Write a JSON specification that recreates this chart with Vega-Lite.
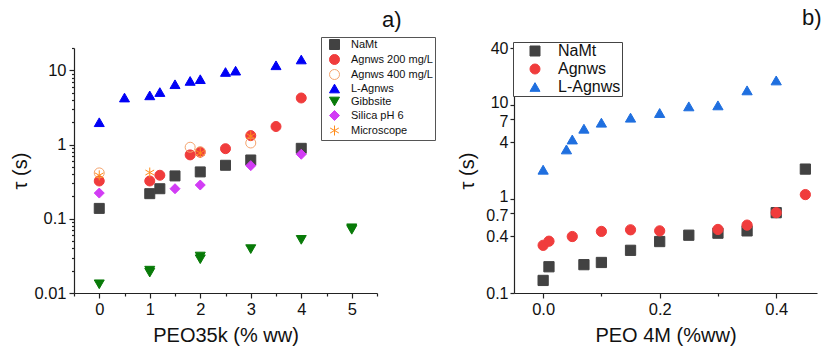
{
  "$schema": "https://vega.github.io/schema/vega-lite/v6.json",
  "padding": {"left": 10, "top": 7, "right": 0, "bottom": 0},
  "bounds": "flush",
  "spacing": 137,
  "config": {
    "font": "Liberation Sans",
    "view": {"stroke": null},
    "axis": {"grid": false, "domainColor": "#222", "tickColor": "#222", "labelColor": "#111", "titleColor": "#111", "labelFontSize": 16.5, "titleFontSize": 20, "titleFontWeight": "normal", "tickSize": 5, "domainWidth": 1.2, "tickWidth": 1.2, "labelPadding": 2, "labelOverlap": false},
    "title": {"fontSize": 22, "fontWeight": "normal", "anchor": "start", "frame": "group", "color": "#111", "baseline": "alphabetic"}
  },
  "datasets": {
    "a": [
      {"x": 0, "y": 0.138, "s": "NaMt"},
      {"x": 1, "y": 0.218, "s": "NaMt"},
      {"x": 1.2, "y": 0.254, "s": "NaMt"},
      {"x": 1.5, "y": 0.378, "s": "NaMt"},
      {"x": 2, "y": 0.428, "s": "NaMt"},
      {"x": 2.5, "y": 0.526, "s": "NaMt"},
      {"x": 3, "y": 0.62, "s": "NaMt"},
      {"x": 4, "y": 0.89, "s": "NaMt"},
      {"x": 0, "y": 0.0131, "s": "Gibbsite"},
      {"x": 1, "y": 0.0200, "s": "Gibbsite"},
      {"x": 1, "y": 0.0188, "s": "Gibbsite"},
      {"x": 2, "y": 0.0310, "s": "Gibbsite"},
      {"x": 2, "y": 0.0285, "s": "Gibbsite"},
      {"x": 3, "y": 0.039, "s": "Gibbsite"},
      {"x": 4, "y": 0.052, "s": "Gibbsite"},
      {"x": 5, "y": 0.0745, "s": "Gibbsite"},
      {"x": 5, "y": 0.071, "s": "Gibbsite"},
      {"x": 0, "y": 0.222, "s": "Silica pH 6"},
      {"x": 1.5, "y": 0.254, "s": "Silica pH 6"},
      {"x": 2, "y": 0.285, "s": "Silica pH 6"},
      {"x": 3, "y": 0.52, "s": "Silica pH 6"},
      {"x": 4, "y": 0.74, "s": "Silica pH 6"},
      {"x": 0, "y": 2.0, "s": "L-Agnws"},
      {"x": 0.5, "y": 4.3, "s": "L-Agnws"},
      {"x": 1, "y": 4.6, "s": "L-Agnws"},
      {"x": 1.2, "y": 5.1, "s": "L-Agnws"},
      {"x": 1.5, "y": 6.5, "s": "L-Agnws"},
      {"x": 1.8, "y": 7.2, "s": "L-Agnws"},
      {"x": 2, "y": 7.6, "s": "L-Agnws"},
      {"x": 2.5, "y": 9.5, "s": "L-Agnws"},
      {"x": 2.7, "y": 9.9, "s": "L-Agnws"},
      {"x": 3.5, "y": 11.7, "s": "L-Agnws"},
      {"x": 4, "y": 14.0, "s": "L-Agnws"},
      {"x": 0, "y": 0.323, "s": "Agnws 200 mg/L"},
      {"x": 1, "y": 0.323, "s": "Agnws 200 mg/L"},
      {"x": 1.2, "y": 0.386, "s": "Agnws 200 mg/L"},
      {"x": 1.8, "y": 0.726, "s": "Agnws 200 mg/L"},
      {"x": 2, "y": 0.79, "s": "Agnws 200 mg/L"},
      {"x": 2.5, "y": 0.88, "s": "Agnws 200 mg/L"},
      {"x": 3, "y": 1.32, "s": "Agnws 200 mg/L"},
      {"x": 3.5, "y": 1.75, "s": "Agnws 200 mg/L"},
      {"x": 4, "y": 4.24, "s": "Agnws 200 mg/L"},
      {"x": 0, "y": 0.415, "s": "Agnws 400 mg/L"},
      {"x": 1.8, "y": 0.92, "s": "Agnws 400 mg/L"},
      {"x": 2, "y": 0.80, "s": "Agnws 400 mg/L"},
      {"x": 3, "y": 1.05, "s": "Agnws 400 mg/L"},
      {"x": 0, "y": 0.385, "s": "Microscope"},
      {"x": 1, "y": 0.42, "s": "Microscope"},
      {"x": 2, "y": 0.77, "s": "Microscope"},
      {"x": 3, "y": 1.3, "s": "Microscope"}
    ],
    "b": [
      {"x": 0.0, "y": 0.136, "s": "NaMt"},
      {"x": 0.01, "y": 0.19, "s": "NaMt"},
      {"x": 0.07, "y": 0.2, "s": "NaMt"},
      {"x": 0.1, "y": 0.211, "s": "NaMt"},
      {"x": 0.15, "y": 0.284, "s": "NaMt"},
      {"x": 0.2, "y": 0.352, "s": "NaMt"},
      {"x": 0.25, "y": 0.411, "s": "NaMt"},
      {"x": 0.3, "y": 0.432, "s": "NaMt"},
      {"x": 0.35, "y": 0.457, "s": "NaMt"},
      {"x": 0.4, "y": 0.713, "s": "NaMt"},
      {"x": 0.45, "y": 2.07, "s": "NaMt"},
      {"x": 0.0, "y": 0.321, "s": "Agnws"},
      {"x": 0.01, "y": 0.355, "s": "Agnws"},
      {"x": 0.05, "y": 0.398, "s": "Agnws"},
      {"x": 0.1, "y": 0.451, "s": "Agnws"},
      {"x": 0.15, "y": 0.469, "s": "Agnws"},
      {"x": 0.2, "y": 0.457, "s": "Agnws"},
      {"x": 0.3, "y": 0.473, "s": "Agnws"},
      {"x": 0.35, "y": 0.526, "s": "Agnws"},
      {"x": 0.4, "y": 0.713, "s": "Agnws"},
      {"x": 0.45, "y": 1.11, "s": "Agnws"},
      {"x": 0.0, "y": 2.04, "s": "L-Agnws"},
      {"x": 0.04, "y": 3.35, "s": "L-Agnws"},
      {"x": 0.05, "y": 4.27, "s": "L-Agnws"},
      {"x": 0.07, "y": 5.56, "s": "L-Agnws"},
      {"x": 0.1, "y": 6.44, "s": "L-Agnws"},
      {"x": 0.15, "y": 7.28, "s": "L-Agnws"},
      {"x": 0.2, "y": 8.16, "s": "L-Agnws"},
      {"x": 0.25, "y": 9.6, "s": "L-Agnws"},
      {"x": 0.3, "y": 9.84, "s": "L-Agnws"},
      {"x": 0.35, "y": 14.2, "s": "L-Agnws"},
      {"x": 0.4, "y": 18.1, "s": "L-Agnws"}
    ]
  },
  "hconcat": [
    {
      "width": 303,
      "height": 245,
      "title": {"text": "a)", "dx": 308, "offset": 5},
      "data": {"name": "a"},
      "mark": {"type": "point", "size": 100, "strokeWidth": 1, "opacity": 1},
      "encoding": {
        "x": {"field": "x", "type": "quantitative", "scale": {"domain": [-0.5, 5.5], "nice": false, "zero": false},
              "axis": {"values": [-0.5, 0, 0.5, 1, 1.5, 2, 2.5, 3, 3.5, 4, 4.5, 5, 5.5],
                       "labelExpr": "datum.value % 1 == 0 ? format(datum.value, 'd') : ''",
                       "tickSize": {"condition": {"test": "datum.value % 1 == 0", "value": 5}, "value": 3},
                       "labelPadding": 3,
                       "title": "PEO35k (% ww)", "titlePadding": 8}},
        "y": {"field": "y", "type": "quantitative", "scale": {"type": "log", "domain": [0.01, 20], "nice": false},
              "axis": {"values": [0.01, 0.02, 0.03, 0.04, 0.05, 0.06, 0.07, 0.08, 0.09, 0.1, 0.2, 0.3, 0.4, 0.5, 0.6, 0.7, 0.8, 0.9, 1, 2, 3, 4, 5, 6, 7, 8, 9, 10, 20],
                       "labelExpr": "indexof([0.01, 0.1, 1, 10], datum.value) >= 0 ? format(datum.value, '~g') : ''",
                       "tickSize": {"condition": {"test": "indexof([0.01, 0.1, 1, 10], datum.value) >= 0", "value": 5}, "value": 2.5},
                       "labelPadding": 3,
                       "title": "τ (s)", "titlePadding": 3}},
        "shape": {"field": "s", "type": "nominal",
          "scale": {"domain": ["NaMt", "Agnws 200 mg/L", "Agnws 400 mg/L", "L-Agnws", "Gibbsite", "Silica pH 6", "Microscope"],
                    "range": ["square", "circle", "circle", "triangle-up", "triangle-down", "diamond", "M0,-1L0,1M-0.87,-0.5L0.87,0.5M-0.87,0.5L0.87,-0.5"]},
          "legend": {"title": null, "orient": "none", "legendX": 247, "legendY": -11, "strokeColor": "#555", "fillColor": "white", "padding": 2, "labelFontSize": 11, "labelColor": "#111", "symbolSize": 100, "rowPadding": 0, "symbolOffset": 6, "labelOffset": 11, "symbolStrokeWidth": 1}},
        "fill": {"field": "s", "type": "nominal",
          "scale": {"domain": ["NaMt", "Agnws 200 mg/L", "Agnws 400 mg/L", "L-Agnws", "Gibbsite", "Silica pH 6", "Microscope"],
                    "range": ["#424242", "#f03c3c", "transparent", "#0000f5", "#087a08", "#d23cf5", "transparent"]},
          "legend": {"title": null, "orient": "none", "legendX": 247, "legendY": -11, "strokeColor": "#555", "fillColor": "white", "padding": 2, "labelFontSize": 11, "labelColor": "#111", "symbolSize": 100, "rowPadding": 0, "symbolOffset": 6, "labelOffset": 11, "symbolStrokeWidth": 1}},
        "stroke": {"field": "s", "type": "nominal",
          "scale": {"domain": ["NaMt", "Agnws 200 mg/L", "Agnws 400 mg/L", "L-Agnws", "Gibbsite", "Silica pH 6", "Microscope"],
                    "range": ["#424242", "#f03c3c", "#f5a46e", "#0000f5", "#087a08", "#d23cf5", "#ff8c1a"]},
          "legend": {"title": null, "orient": "none", "legendX": 247, "legendY": -11, "strokeColor": "#555", "fillColor": "white", "padding": 2, "labelFontSize": 11, "labelColor": "#111", "symbolSize": 100, "rowPadding": 0, "symbolOffset": 6, "labelOffset": 11, "symbolStrokeWidth": 1}}
      }
    },
    {
      "width": 303,
      "height": 245,
      "title": {"text": "b)", "dx": 288, "offset": 10},
      "data": {"name": "b"},
      "mark": {"type": "point", "size": 105, "strokeWidth": 1, "opacity": 1},
      "encoding": {
        "x": {"field": "x", "type": "quantitative", "scale": {"domain": [-0.05, 0.47], "nice": false, "zero": false},
              "axis": {"values": [0, 0.1, 0.2, 0.3, 0.4],
                       "labelExpr": "round(datum.value*10) % 2 == 0 ? format(datum.value, '.1f') : ''",
                       "tickSize": {"condition": {"test": "round(datum.value*10) % 2 == 0", "value": 5}, "value": 3},
                       "labelPadding": 3,
                       "title": "PEO 4M (%ww)", "titlePadding": 8}},
        "y": {"field": "y", "type": "quantitative", "scale": {"type": "log", "domain": [0.1, 40], "nice": false},
              "axis": {"values": [0.1, 0.4, 0.7, 1, 4, 7, 10, 40], "format": "~g", "title": "τ (s)", "titlePadding": 8, "tickSize": 4,
                       "labelFontSize": 16,
                       "labelOffset": {"condition": [
                         {"test": "datum.value == 10 || datum.value == 1", "value": -2},
                         {"test": "datum.value == 7 || datum.value == 0.7", "value": 2}], "value": 0}}},
        "shape": {"field": "s", "type": "nominal",
          "scale": {"domain": ["NaMt", "Agnws", "L-Agnws"], "range": ["square", "circle", "triangle-up"]},
          "legend": {"title": null, "orient": "none", "legendX": -1, "legendY": -6, "strokeColor": "#444", "fillColor": "white", "padding": 1, "labelFontSize": 16, "labelColor": "#111", "symbolSize": 100, "rowPadding": 2, "symbolOffset": 13, "labelOffset": 15, "symbolStrokeWidth": 1}},
        "fill": {"field": "s", "type": "nominal",
          "scale": {"domain": ["NaMt", "Agnws", "L-Agnws"], "range": ["#424242", "#f03c3c", "#1f6fdf"]},
          "legend": {"title": null, "orient": "none", "legendX": -1, "legendY": -6, "strokeColor": "#444", "fillColor": "white", "padding": 1, "labelFontSize": 16, "labelColor": "#111", "symbolSize": 100, "rowPadding": 2, "symbolOffset": 13, "labelOffset": 15, "symbolStrokeWidth": 1}},
        "stroke": {"field": "s", "type": "nominal",
          "scale": {"domain": ["NaMt", "Agnws", "L-Agnws"], "range": ["#424242", "#f03c3c", "#1f6fdf"]},
          "legend": {"title": null, "orient": "none", "legendX": -1, "legendY": -6, "strokeColor": "#444", "fillColor": "white", "padding": 1, "labelFontSize": 16, "labelColor": "#111", "symbolSize": 100, "rowPadding": 2, "symbolOffset": 13, "labelOffset": 15, "symbolStrokeWidth": 1}}
      }
    }
  ],
  "resolve": {"scale": {"shape": "independent", "fill": "independent", "stroke": "independent"}}
}
